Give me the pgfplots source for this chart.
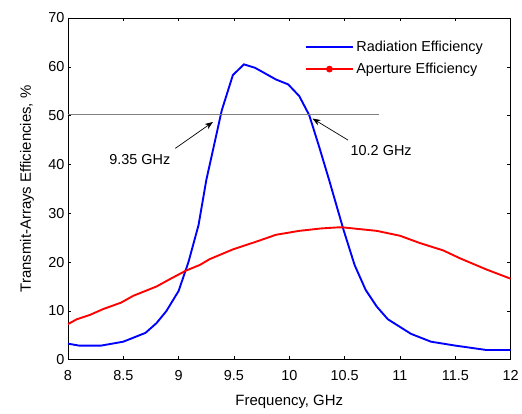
\documentclass[border=0pt]{standalone}
\usepackage{fontspec}
\setmainfont{Liberation Sans}
\usepackage{pgfplots}
\pgfplotsset{compat=1.18}
\usetikzlibrary{arrows.meta}
\begin{document}
\begin{tikzpicture}
\begin{axis}[
    name=ax,
    scale only axis,
    width=443bp, height=342bp,
    xmin=8, xmax=12, ymin=0, ymax=70,
    xtick={8,8.5,...,12},
    xticklabels={8,8.5,9,9.5,10,10.5,11,11.5,12},
    ytick={0,10,...,70},
    tick align=inside,
    major tick length=3.5bp,
    tick style={black, line width=0.6pt},
    axis line style={black, line width=0.9pt},
    tick label style={font=\fontsize{14.5}{17}\selectfont},
    xticklabel style={anchor=base, yshift=-21bp},
    /pgf/number format/assume math mode=true,
    xlabel={Frequency, GHz},
    ylabel={Transmit-Arrays Efficiencies, \%},
    label style={font=\fontsize{15}{18}\selectfont},
    xlabel style={at={(axis description cs:0.5,0)}, anchor=base, yshift=-46bp},
    ylabel style={at={(axis description cs:0,0.5)}, anchor=center, yshift=41bp},
    legend style={draw=none, fill=none, inner sep=0pt, at={(0.535,0.94)}, anchor=north west,
        font=\fontsize{14.5}{17}\selectfont, row sep=5bp, nodes={inner sep=2.5bp}},
    legend cell align=left,
]
\addplot[blue, line width=1.9pt,
    legend image code/.code={
        \draw[blue, line width=1.9pt] (0bp,0bp) -- (47bp,0bp);
    }] coordinates {
    (8.0,3.3) (8.1,2.9) (8.3,2.9) (8.5,3.7) (8.7,5.5) (8.8,7.5) (8.89,10)
    (9.0,14.1) (9.09,20.1) (9.18,27.6) (9.25,36.8) (9.39,51.1) (9.49,58.3)
    (9.59,60.5) (9.69,59.8) (9.88,57.4) (9.99,56.4) (10.09,54.0) (10.18,50.1)
    (10.27,43.6) (10.36,36.8) (10.49,26.6) (10.59,19.4) (10.69,14.3)
    (10.79,10.9) (10.89,8.3) (11.1,5.3) (11.28,3.7) (11.5,2.9) (11.78,2.0) (12.0,2.0)
};
\addlegendentry{Radiation Efficiency}
\addplot[red, line width=1.9pt,
    legend image code/.code={
        \draw[red, line width=1.9pt] (0bp,0bp) -- (47bp,0bp);
        \fill[red] (23.5bp,0bp) circle (2.4pt);
    }] coordinates {
    (8.0,7.3) (8.08,8.3) (8.2,9.2) (8.32,10.4) (8.48,11.7) (8.59,13.1)
    (8.8,15.0) (8.92,16.5) (9.07,18.3) (9.19,19.4) (9.28,20.6) (9.49,22.6)
    (9.69,24.1) (9.88,25.6) (10.09,26.4) (10.29,26.9) (10.43,27.1) (10.49,27.1)
    (10.79,26.4) (11.0,25.4) (11.18,23.9) (11.39,22.4) (11.54,20.8) (11.78,18.5) (12.0,16.6)
};
\addlegendentry{Aperture Efficiency}
\addplot[gray, line width=0.6pt, forget plot] coordinates {(8,50.2) (10.81,50.2)};
\draw[-{Stealth[length=8bp,width=6bp,inset=2.5bp]}, line width=0.7pt] (axis cs:8.97,43.3) -- (axis cs:9.31,48.7);
\draw[-{Stealth[length=8bp,width=6bp,inset=2.5bp]}, line width=0.7pt] (axis cs:10.53,45) -- (axis cs:10.21,49.4);
\node[font=\fontsize{14.5}{17}\selectfont] at (axis cs:8.65,41.0) {9.35 GHz};
\node[font=\fontsize{14.5}{17}\selectfont] at (axis cs:10.83,42.8) {10.2 GHz};
\end{axis}
\path (ax.south west) ++(-68bp,-54bp) (ax.north east) ++(11bp,18bp);
\end{tikzpicture}
\end{document}
